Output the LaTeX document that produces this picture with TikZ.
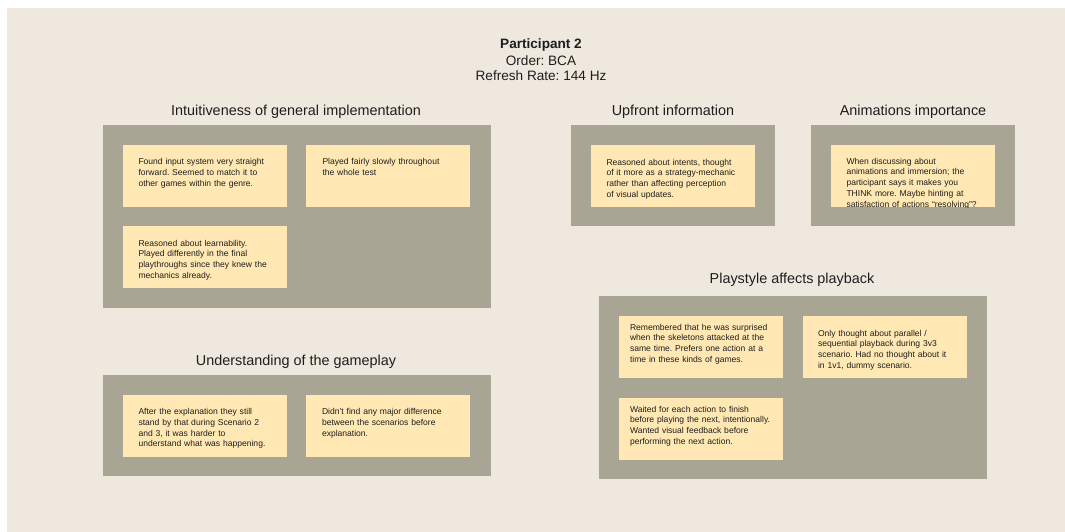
\documentclass[tikz,border=0pt]{standalone}
\usepackage{fontspec}
\setmainfont{Liberation Sans}
\frenchspacing
\definecolor{bgc}{RGB}{239,232,222}
\definecolor{grpc}{RGB}{168,165,148}
\definecolor{stkc}{RGB}{255,232,179}
\definecolor{inkc}{RGB}{30,30,30}
\tikzset{
  grpbox/.style={fill=grpc, draw=none, anchor=north west, inner sep=0pt, outer sep=0pt, minimum width=#1},
  stickybox/.style={fill=stkc, draw=none, anchor=north west, inner sep=0pt, outer sep=0pt, minimum width=164pt, minimum height=62pt},
  notetext/.style={anchor=base west, inner sep=0pt, outer sep=0pt, text width=170pt, align=left, font=\fontsize{8.55}{10.7}\selectfont, text=inkc},
  grptitle/.style={inner sep=0pt, font=\fontsize{14.4}{16}\selectfont, text=inkc},
  headtext/.style={inner sep=0pt, font=\fontsize{13.6}{15}\selectfont, text=inkc},
}
\begin{document}
\begin{tikzpicture}[x=1pt,y=-1pt]
\useasboundingbox (0,0) rectangle (1065,532);
\fill[white] (0,0) rectangle (1065,532);
\fill[bgc] (7,8) rectangle (1065,532);

% header
\node[headtext, font=\fontsize{13.6}{15}\selectfont\bfseries] (h1) at (541,45.3) {Participant 2};
\node[headtext] (h2) at (541,60.5) {Order: BCA};
\node[headtext] (h3) at (541,75.8) {Refresh Rate: 144 Hz};

% group titles
\node[grptitle] (t1) at (296,111.3) {Intuitiveness of general implementation};
\node[grptitle] (t2) at (296,361.3) {Understanding of the gameplay};
\node[grptitle] (t3) at (673,111.3) {Upfront information};
\node[grptitle] (t4) at (913,111.3) {Animations importance};
\node[grptitle] (t5) at (792,279.3) {Playstyle affects playback};

% group boxes
\node[grpbox=388pt, minimum height=183pt] (g1) at (103,125) {};
\node[grpbox=388pt, minimum height=101pt] (g2) at (103,375) {};
\node[grpbox=204pt, minimum height=101pt] (g3) at (571,125) {};
\node[grpbox=204pt, minimum height=101pt] (g4) at (811,125) {};
\node[grpbox=388pt, minimum height=183pt] (g5) at (599,296) {};

% stickies
\node[stickybox] (s11) at (123,145) {};
\node[stickybox] (s12) at (306,145) {};
\node[stickybox] (s13) at (123,226) {};
\node[stickybox] (s21) at (123,395) {};
\node[stickybox] (s22) at (306,395) {};
\node[stickybox] (s31) at (591,145) {};
\node[stickybox] (s41) at (831,145) {};
\node[stickybox] (s51) at (619,316) {};
\node[stickybox] (s52) at (803,316) {};
\node[stickybox] (s53) at (619,398) {};

% texts
\node[notetext] (n11) at (138.5,164.7) {Found input system very straight\\forward. Seemed to match it to\\other games within the genre.};
\node[notetext] (n12) at (322.5,164.7) {Played fairly slowly throughout\\the whole test};
\node[notetext] (n13) at (138.5,246) {Reasoned about learnability.\\Played differently in the final\\playthroughs since they knew the\\mechanics already.};
\node[notetext] (n21) at (138.5,414.7) {After the explanation they still\\stand by that during Scenario 2\\and 3, it was harder to\\understand what was happening.};
\node[notetext] (n22) at (322,414.7) {Didn't find any major difference\\between the scenarios before\\explanation.};
\node[notetext] (n31) at (606.5,165) {Reasoned about intents, thought\\of it more as a strategy-mechanic\\rather than affecting perception\\of visual updates.};
\begin{scope}
\clip (s41.north west) rectangle (s41.south east);
\node[notetext] (n41) at (846.5,164.3) {When discussing about\\animations and immersion; the\\participant says it makes you\\THINK more. Maybe hinting at\\satisfaction of actions ``resolving''?};
\end{scope}
\node[notetext] (n51) at (630,330) {Remembered that he was surprised\\when the skeletons attacked at the\\same time. Prefers one action at a\\time in these kinds of games.};
\node[notetext] (n52) at (818,336) {Only thought about parallel /\\sequential playback during 3v3\\scenario. Had no thought about it\\in 1v1, dummy scenario.};
\node[notetext] (n53) at (630,412) {Waited for each action to finish\\before playing the next, intentionally.\\Wanted visual feedback before\\performing the next action.};
\end{tikzpicture}
\end{document}
